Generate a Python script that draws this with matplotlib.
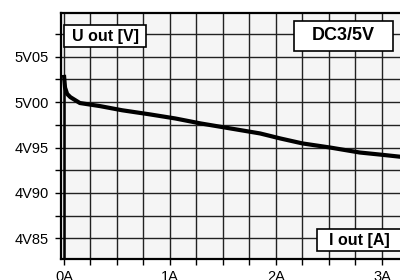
import numpy as np
import matplotlib
matplotlib.use("Agg")
import matplotlib.pyplot as plt
from matplotlib.patches import Rectangle

plt.rcParams['font.family'] = ['Liberation Sans', 'DejaVu Sans']

# output characteristic
i_out = [0.0, 0.0, 0.01, 0.03, 0.06, 0.15, 0.34, 0.55, 0.81, 1.05, 1.29,
         1.57, 1.85, 2.04, 2.25, 2.51, 2.79, 3.0, 3.2]
u_out = [4.82, 5.030, 5.016, 5.009, 5.0055, 4.999, 4.9956, 4.991, 4.9865,
         4.982, 4.9765, 4.971, 4.9655, 4.960, 4.9545, 4.950, 4.9445, 4.942, 4.9395]

x_ticks = [0, 1, 2, 3]
x_labels = ['0A', '1A', '2A', '3A']
y_ticks = [4.85, 4.90, 4.95, 5.00, 5.05]
y_labels = ['4V85', '4V90', '4V95', '5V00', '5V05']

W, H = 400, 280
fig = plt.figure(figsize=(4, 2.8), dpi=100)
ax = fig.add_axes([61 / W, 1 - 259.3 / H, 1 - 61 / W, (259.3 - 13.3) / H])
ax.set_facecolor('#f5f5f5')

ax.set_xlim(-0.028, 3.17)
ax.set_ylim(4.8269, 5.0978)

ax.set_xticks(np.arange(0, 3.2, 0.25), minor=True)
ax.set_yticks(np.arange(4.85, 5.09, 0.025), minor=True)
ax.set_xticks(x_ticks)
ax.set_xticklabels(x_labels)
ax.set_yticks(y_ticks)
ax.set_yticklabels(y_labels)
ax.grid(True, which='both', color='#222222', linewidth=1.0)
ax.set_axisbelow(True)
ax.tick_params(which='both', direction='out', length=4, width=1, color='black',
               labelsize=10.5)
ax.tick_params(axis='x', pad=4)
ax.tick_params(axis='y', pad=5)

for s in ['left', 'top', 'bottom']:
    ax.spines[s].set_linewidth(1.6)
    ax.spines[s].set_color('black')
ax.spines['right'].set_visible(False)

# rising edge at 0 A is drawn thinner than the load curve
ax.plot(i_out[:2], u_out[:2], color='black', linewidth=1.8, solid_capstyle='butt')
ax.plot(i_out[1:], u_out[1:], color='black', linewidth=3, solid_capstyle='butt',
        solid_joinstyle='round')


def label_box(x0, y0, x1, y1, text, size):
    fig.patches.append(Rectangle((x0 / W, 1 - y1 / H), (x1 - x0) / W, (y1 - y0) / H,
                                 transform=fig.transFigure, facecolor='white',
                                 edgecolor='black', linewidth=1.2, zorder=5))
    fig.text((x0 + x1) / 2 / W, 1 - (y0 + y1) / 2 / H, text, ha='center', va='center',
             fontsize=size, fontweight='bold', zorder=6)


label_box(64, 25, 146, 47, 'U out [V]', 11.5)
label_box(294, 21, 393, 51, 'DC3/5V', 13)
label_box(317, 229, 401, 251, 'I out [A]', 11.5)

fig.savefig('out.png', dpi=100)
